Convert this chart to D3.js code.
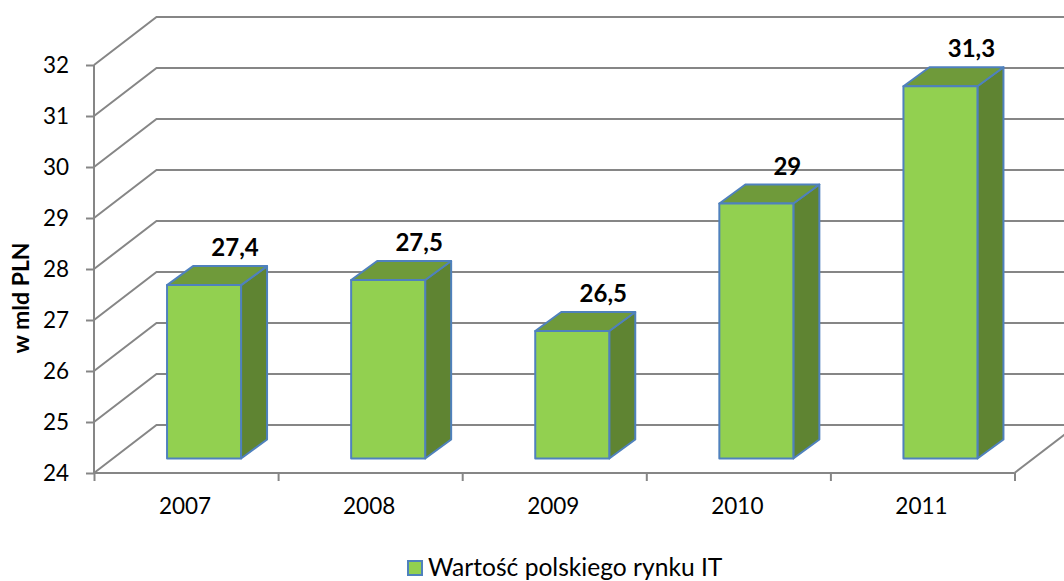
<!DOCTYPE html>
<html><head><meta charset="utf-8">
<script src="https://cdn.jsdelivr.net/npm/d3@7"></script>
<style>html,body{margin:0;padding:0;background:#fff}svg{display:block}text{font-family:Lato,"Open Sans",sans-serif;fill:#000}</style>
</head><body><svg id="c" width="1064" height="581"></svg>
<script>
const categories = ["2007","2008","2009","2010","2011"];
const values = [27.4,27.5,26.5,29,31.3];
const labels = ["27,4","27,5","26,5","29","31,3"];
const yTicks = [24,25,26,27,28,29,30,31,32];
const seriesName = "Wartość polskiego rynku IT";
const yTitle = "w mld PLN";

const W=1064,H=581;
const svg=d3.select("#c");
const x=d3.scaleBand().domain(categories).range([94,1014.5]).paddingInner(0.598).paddingOuter(0.299);
const y=d3.scaleLinear().domain([24,32]).range([473,65]);
const wall={dx:62.5,dy:-48}, barShift={dx:18,dy:-14.5}, depth={dx:26,dy:-19};
const grey="#868686", blue="#4f81bd";

// grid: back wall + left wall
const grid=svg.append("g").attr("fill","none").attr("stroke",grey).attr("stroke-width",2);
grid.selectAll("path.g").data(yTicks).join("path").attr("class","g")
  .attr("d",v=>d3.line()([[x.range()[0],y(v)],[x.range()[0]+wall.dx,y(v)+wall.dy],[x.range()[1]+wall.dx,y(v)+wall.dy]]));
// floor right edge
grid.append("path").attr("d",d3.line()([[x.range()[1],y(24)],[x.range()[1]+wall.dx,y(24)+wall.dy]]));

// axes
const ax=d3.axisLeft(y).tickValues(yTicks).tickSize(8).tickPadding(17).tickFormat(d3.format("d"));
const gy=svg.append("g").attr("transform",`translate(${x.range()[0]},0)`).call(ax);
const bottom=d3.scaleLinear().domain([0,categories.length]).range(x.range());
const ticksX=d3.axisBottom(bottom).tickValues(d3.range(categories.length+1)).tickSize(8).tickFormat("");
const gx=svg.append("g").attr("transform",`translate(0,${y(24)})`).call(ticksX);
const cat=d3.axisBottom(x).tickSize(0).tickPadding(25);
const gc=svg.append("g").attr("transform",`translate(-1,${y(24)})`).call(cat);
gc.select(".domain").remove();
[gy,gx].forEach(g=>{g.selectAll(".domain,.tick line").attr("stroke",grey).attr("stroke-width",2);});
gy.select(".domain").attr("d",`M0,${y(32)}V${y(24)}`);
gx.select(".domain").attr("d",`M${x.range()[0]},0H${x.range()[1]}`);
svg.selectAll(".tick text").attr("font-size",22.5).style("font-family","Lato").attr("fill","#000");

// bars
const bars=svg.append("g").selectAll("g").data(categories.map((c,i)=>({c,v:values[i],l:labels[i]}))).join("g");
const X0=d=>x(d.c)+barShift.dx, X1=d=>X0(d)+x.bandwidth();
const Yt=d=>y(d.v)+barShift.dy, Yb=()=>y(24)+barShift.dy;
const st=s=>s.attr("stroke",blue).attr("stroke-width",2).attr("stroke-linejoin","round");
bars.append("path").attr("fill","#5f8432").call(st)
  .attr("d",d=>d3.line()([[X1(d),Yt(d)],[X1(d)+depth.dx,Yt(d)+depth.dy],[X1(d)+depth.dx,Yb()+depth.dy],[X1(d),Yb()]])+"Z");
bars.append("path").attr("fill","#6f9a3a").call(st)
  .attr("d",d=>d3.line()([[X0(d),Yt(d)],[X0(d)+depth.dx,Yt(d)+depth.dy],[X1(d)+depth.dx,Yt(d)+depth.dy],[X1(d),Yt(d)]])+"Z");
bars.append("rect").attr("fill","#92d050").call(st)
  .attr("x",X0).attr("y",Yt).attr("width",x.bandwidth()).attr("height",d=>Yb()-Yt(d));
bars.append("text").text(d=>d.l).attr("text-anchor","middle").attr("font-size",24).attr("font-weight",700)
  .attr("x",d=>(X0(d)+X1(d))/2+31).attr("y",d=>Yt(d)-29);

// y title
svg.append("text").text(yTitle).attr("text-anchor","middle").attr("font-size",23).attr("font-weight",700)
  .attr("transform","translate(29,298) rotate(-90)");

// legend
const lg=svg.append("g");
lg.append("rect").attr("x",408).attr("y",561).attr("width",14).attr("height",14).attr("fill","#92d050").attr("stroke",blue).attr("stroke-width",2);
lg.append("text").text(seriesName).attr("x",428).attr("y",576).attr("font-size",24.6);
</script></body></html>
